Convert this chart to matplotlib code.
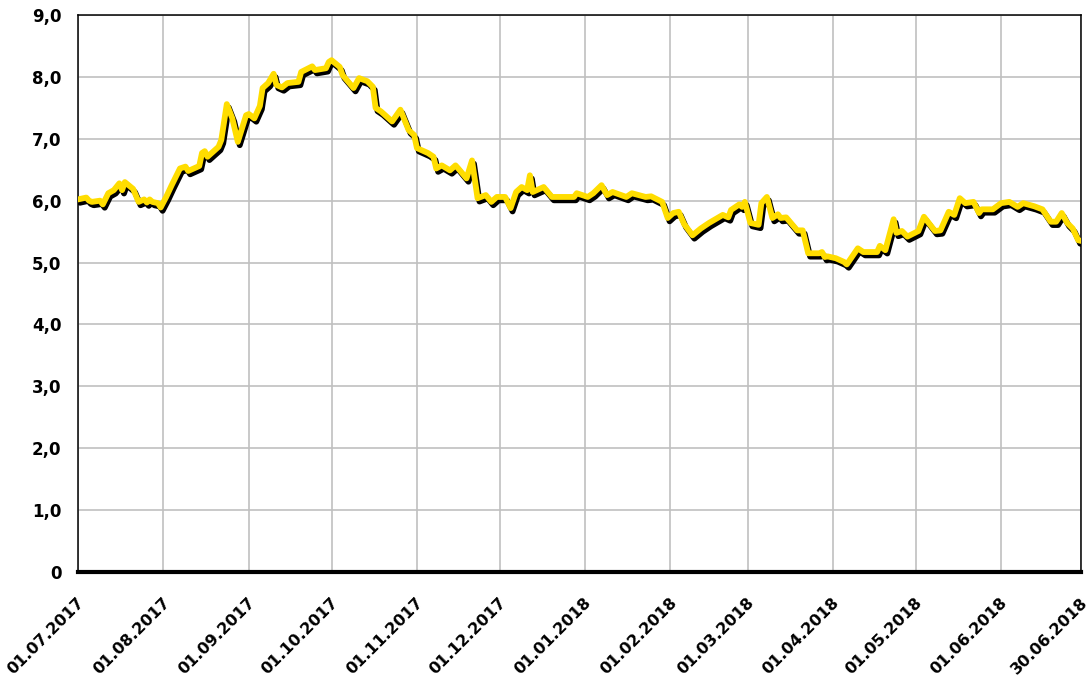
import matplotlib
matplotlib.use("Agg")
import matplotlib.pyplot as plt
import matplotlib.patheffects as pe
import matplotlib.transforms as mtransforms
import pandas as pd

dates = [
    "2017-07-01", "2017-07-04", "2017-07-05", "2017-07-06", "2017-07-09", "2017-07-10",
    "2017-07-12", "2017-07-14", "2017-07-16", "2017-07-17", "2017-07-18", "2017-07-21",
    "2017-07-23", "2017-07-25", "2017-07-26", "2017-07-27", "2017-07-28", "2017-07-30",
    "2017-07-31", "2017-08-02", "2017-08-04", "2017-08-07", "2017-08-09", "2017-08-10",
    "2017-08-12", "2017-08-14", "2017-08-15", "2017-08-16", "2017-08-17", "2017-08-21",
    "2017-08-22", "2017-08-24", "2017-08-26", "2017-08-28", "2017-08-31", "2017-09-01",
    "2017-09-03", "2017-09-05", "2017-09-06", "2017-09-08", "2017-09-10", "2017-09-11",
    "2017-09-13", "2017-09-15", "2017-09-19", "2017-09-20", "2017-09-24", "2017-09-25",
    "2017-09-29", "2017-09-30", "2017-10-01", "2017-10-04", "2017-10-05", "2017-10-09",
    "2017-10-11", "2017-10-14", "2017-10-16", "2017-10-17", "2017-10-19", "2017-10-23",
    "2017-10-26", "2017-10-29", "2017-10-31", "2017-11-01", "2017-11-05", "2017-11-07",
    "2017-11-08", "2017-11-10", "2017-11-13", "2017-11-15", "2017-11-16", "2017-11-19",
    "2017-11-21", "2017-11-23", "2017-11-26", "2017-11-28", "2017-11-30", "2017-12-03",
    "2017-12-05", "2017-12-07", "2017-12-09", "2017-12-11", "2017-12-12", "2017-12-13",
    "2017-12-17", "2017-12-20", "2017-12-28", "2017-12-29", "2018-01-02", "2018-01-04",
    "2018-01-07", "2018-01-09", "2018-01-11", "2018-01-16", "2018-01-18", "2018-01-23",
    "2018-01-25", "2018-01-29", "2018-01-31", "2018-02-02", "2018-02-04", "2018-02-06",
    "2018-02-09", "2018-02-12", "2018-02-15", "2018-02-20", "2018-02-22", "2018-02-23",
    "2018-02-26", "2018-02-27", "2018-02-28", "2018-03-02", "2018-03-05", "2018-03-06",
    "2018-03-08", "2018-03-10", "2018-03-12", "2018-03-13", "2018-03-15", "2018-03-19",
    "2018-03-21", "2018-03-23", "2018-03-27", "2018-03-28", "2018-03-29", "2018-03-30",
    "2018-04-02", "2018-04-05", "2018-04-06", "2018-04-10", "2018-04-12", "2018-04-17",
    "2018-04-18", "2018-04-20", "2018-04-23", "2018-04-24", "2018-04-26", "2018-04-28",
    "2018-05-02", "2018-05-04", "2018-05-08", "2018-05-10", "2018-05-13", "2018-05-15",
    "2018-05-17", "2018-05-19", "2018-05-22", "2018-05-24", "2018-05-25", "2018-05-29",
    "2018-06-01", "2018-06-04", "2018-06-07", "2018-06-09", "2018-06-13", "2018-06-16",
    "2018-06-19", "2018-06-21", "2018-06-23", "2018-06-25", "2018-06-27", "2018-06-29",
    "2018-06-30",
]
values = [
    6.02, 6.05, 6.00, 5.98, 6.00, 5.94,
    6.12, 6.17, 6.28, 6.17, 6.30, 6.19,
    5.98, 6.02, 5.97, 6.02, 5.98, 5.96,
    5.89, 6.06, 6.25, 6.52, 6.55, 6.48,
    6.52, 6.56, 6.77, 6.80, 6.71, 6.87,
    6.98, 7.56, 7.33, 6.95, 7.38, 7.40,
    7.33, 7.53, 7.82, 7.90, 8.05, 7.87,
    7.83, 7.90, 7.92, 8.08, 8.17, 8.11,
    8.14, 8.24, 8.27, 8.16, 8.03, 7.82,
    7.98, 7.93, 7.84, 7.50, 7.44, 7.28,
    7.47, 7.14, 7.06, 6.85, 6.77, 6.71,
    6.52, 6.57, 6.49, 6.57, 6.52, 6.36,
    6.65, 6.04, 6.09, 5.98, 6.06, 6.06,
    5.88, 6.14, 6.22, 6.17, 6.41, 6.14,
    6.22, 6.06, 6.06, 6.12, 6.06, 6.12,
    6.25, 6.09, 6.14, 6.06, 6.12, 6.06,
    6.07, 5.98, 5.72, 5.80, 5.82, 5.62,
    5.44, 5.55, 5.64, 5.77, 5.73, 5.85,
    5.94, 5.90, 5.98, 5.64, 5.61, 5.96,
    6.06, 5.72, 5.78, 5.72, 5.73, 5.52,
    5.52, 5.15, 5.15, 5.17, 5.09, 5.10,
    5.07, 5.01, 4.97, 5.23, 5.17, 5.17,
    5.27, 5.20, 5.70, 5.48, 5.51, 5.42,
    5.51, 5.74, 5.51, 5.52, 5.82, 5.77,
    6.04, 5.96, 5.98, 5.80, 5.86, 5.86,
    5.96, 5.98, 5.90, 5.96, 5.91, 5.86,
    5.66, 5.66, 5.80, 5.64, 5.55, 5.36,
    5.35,
]
x_tick_dates = ["2017-07-01", "2017-08-01", "2017-09-01", "2017-10-01", "2017-11-01",
                "2017-12-01", "2018-01-01", "2018-02-01", "2018-03-01", "2018-04-01",
                "2018-05-01", "2018-06-01", "2018-06-30"]
x_tick_labels = ["01.07.2017", "01.08.2017", "01.09.2017", "01.10.2017", "01.11.2017",
                 "01.12.2017", "01.01.2018", "01.02.2018", "01.03.2018", "01.04.2018",
                 "01.05.2018", "01.06.2018", "30.06.2018"]
y_ticks = [0, 1, 2, 3, 4, 5, 6, 7, 8, 9]
y_tick_labels = ["0", "1,0", "2,0", "3,0", "4,0", "5,0", "6,0", "7,0", "8,0", "9,0"]

plt.rcParams['font.family'] = ['DejaVu Sans']

fig = plt.figure(figsize=(10.89, 6.79), dpi=100)
ax = fig.add_axes([78/1089, 1 - 572/679, (1081-78)/1089, (572-15)/679])

x = pd.to_datetime(dates)
xt = pd.to_datetime(x_tick_dates)

ax.plot(x, values, color="#FFDD00", lw=4.2, solid_joinstyle="round", solid_capstyle="round",
        zorder=3,
        path_effects=[pe.SimpleLineShadow(offset=(1.4, -2.4), shadow_color="black", alpha=1.0),
                      pe.Normal()])

ax.set_xlim(xt[0], xt[-1])
ax.set_ylim(0, 9)
ax.set_xticks(xt)
ax.set_xticklabels(x_tick_labels, rotation=45, ha="right", va="center", rotation_mode="anchor",
                   fontsize=11.5, fontweight="bold")
ax.set_yticks(y_ticks)
ax.set_yticklabels(y_tick_labels, fontsize=12, fontweight="bold")
ax.tick_params(axis="both", length=0)
ax.tick_params(axis="y", pad=12)
ax.tick_params(axis="x", pad=20)

shift = mtransforms.ScaledTranslation(4/100, 0, fig.dpi_scale_trans)
for lbl in ax.get_xticklabels():
    lbl.set_transform(lbl.get_transform() + shift)

ax.grid(True, color="#c0c0c0", lw=1.2)
ax.set_axisbelow(True)
for side in ["left", "top", "right"]:
    ax.spines[side].set_color("black")
    ax.spines[side].set_linewidth(1.1)
ax.spines["bottom"].set_linewidth(3.0)
ax.spines["bottom"].set_color("black")
ax.spines["bottom"].set_zorder(4)

fig.savefig("out.png", dpi=100)
